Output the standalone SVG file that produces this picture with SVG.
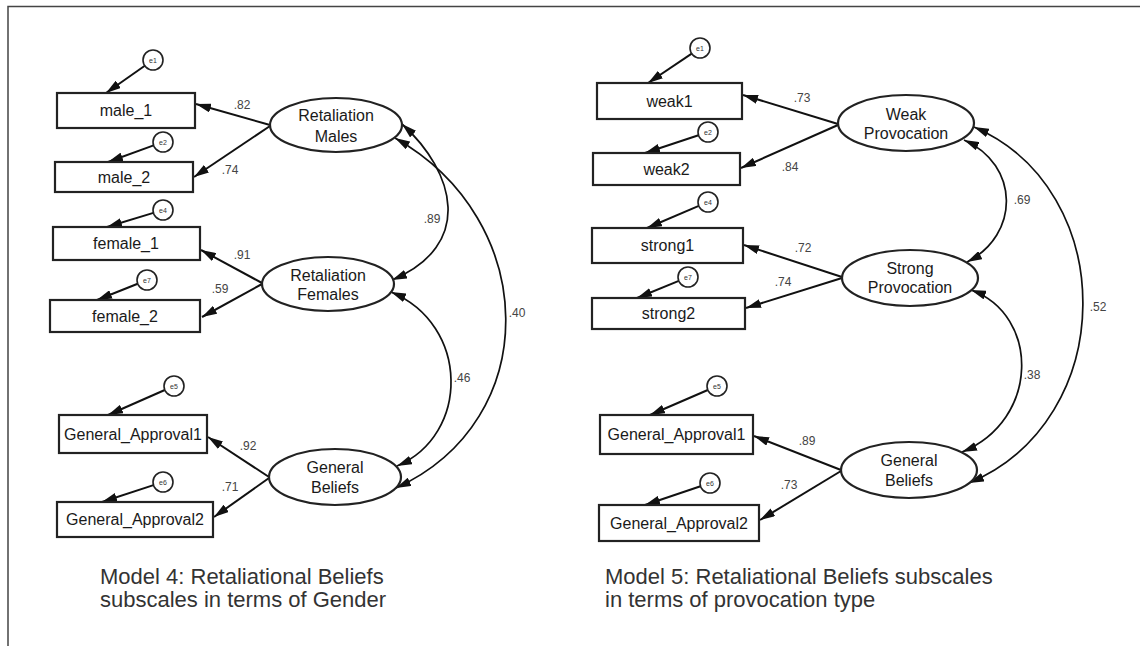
<svg xmlns="http://www.w3.org/2000/svg" width="1140" height="646" viewBox="0 0 1140 646">
<defs>
<marker id="ah" viewBox="0 0 15 9" refX="15" refY="4.5" markerWidth="15" markerHeight="9" markerUnits="userSpaceOnUse" orient="auto-start-reverse">
<path d="M0,0 L15,4.5 L0,9 z" fill="#111"/>
</marker>
<style>
.box{fill:#fff;stroke:#222;stroke-width:2.2}
.lat{fill:#fff;stroke:#222;stroke-width:2.2}
.err{fill:#fff;stroke:#222;stroke-width:1.6}
.t{font-family:"Liberation Sans",Arial,sans-serif;font-size:16px;fill:#1a1a1a;text-anchor:middle;dominant-baseline:central}
.et{font-family:"Liberation Sans",Arial,sans-serif;font-size:7px;fill:#333;text-anchor:middle;dominant-baseline:central}
.c{font-family:"Liberation Sans",Arial,sans-serif;font-size:12px;fill:#444;text-anchor:middle;dominant-baseline:central}
.cap{font-family:"Liberation Sans",Arial,sans-serif;font-size:22px;fill:#333}
.ln{fill:none;stroke:#111;stroke-width:2;marker-end:url(#ah)}
.cv{fill:none;stroke:#111;stroke-width:1.7;marker-start:url(#ah);marker-end:url(#ah)}
</style>
</defs>
<rect width="1140" height="646" fill="#fff"/>
<path d="M8,646 L8,6.5 L1140,6.5" fill="none" stroke="#444" stroke-width="1.5"/>

<g id="connectors">
<!-- left model: error arrows -->
<line class="ln" x1="144.8" y1="65.8" x2="106" y2="93"/>
<line class="ln" x1="153.6" y1="145.4" x2="108" y2="162"/>
<line class="ln" x1="153.4" y1="212.9" x2="107" y2="227"/>
<line class="ln" x1="137.7" y1="283.7" x2="97" y2="300"/>
<line class="ln" x1="164.8" y1="390" x2="108" y2="415"/>
<line class="ln" x1="153.5" y1="485.1" x2="102" y2="502"/>
<!-- left model: loadings -->
<line class="ln" x1="270" y1="125" x2="196" y2="104"/>
<line class="ln" x1="270" y1="126" x2="194" y2="177"/>
<line class="ln" x1="262" y1="283" x2="201" y2="250"/>
<line class="ln" x1="262" y1="284" x2="202" y2="317"/>
<line class="ln" x1="269" y1="477" x2="208" y2="437"/>
<line class="ln" x1="269" y1="478" x2="214" y2="517"/>
<!-- left model: covariances -->
<path class="cv" d="M402,124 C455,172 475,245 392,280"/>
<path class="cv" d="M395,138 C540,220 545,420 396,488"/>
<path class="cv" d="M391,292 C470,325 470,435 397,466"/>
<!-- right model: error arrows -->
<line class="ln" x1="691.7" y1="53.6" x2="648" y2="83"/>
<line class="ln" x1="698.5" y1="135.2" x2="645" y2="153"/>
<line class="ln" x1="698.8" y1="205.9" x2="647" y2="228"/>
<line class="ln" x1="678.8" y1="280.8" x2="637" y2="298"/>
<line class="ln" x1="707.8" y1="390" x2="650" y2="415"/>
<line class="ln" x1="700.5" y1="486.2" x2="645" y2="505"/>
<!-- right model: loadings -->
<line class="ln" x1="838" y1="124" x2="743" y2="95"/>
<line class="ln" x1="838" y1="125" x2="741" y2="168"/>
<line class="ln" x1="842" y1="277" x2="744" y2="245"/>
<line class="ln" x1="842" y1="278" x2="746" y2="308"/>
<line class="ln" x1="841" y1="470" x2="754" y2="436"/>
<line class="ln" x1="841" y1="471" x2="760" y2="520"/>
<!-- right model: covariances -->
<path class="cv" d="M964,140 C1020,165 1020,235 967,262"/>
<path class="cv" d="M974,127 C1120,190 1120,420 969,483"/>
<path class="cv" d="M971,290 C1040,315 1040,420 962,452"/>
<!-- coefficient labels -->
<text class="c" x="242" y="105">.82</text>
<text class="c" x="230" y="170">.74</text>
<text class="c" x="242" y="255">.91</text>
<text class="c" x="220" y="289">.59</text>
<text class="c" x="248" y="446">.92</text>
<text class="c" x="230" y="487">.71</text>
<text class="c" x="432" y="219">.89</text>
<text class="c" x="517" y="313">.40</text>
<text class="c" x="462" y="378">.46</text>
<text class="c" x="802" y="98">.73</text>
<text class="c" x="790" y="167">.84</text>
<text class="c" x="803" y="248">.72</text>
<text class="c" x="783" y="282">.74</text>
<text class="c" x="807" y="441">.89</text>
<text class="c" x="789" y="485">.73</text>
<text class="c" x="1022" y="200">.69</text>
<text class="c" x="1098" y="307">.52</text>
<text class="c" x="1032" y="375">.38</text>
</g>

<!-- left model nodes -->
<g id="L_e1"><circle class="err" cx="153" cy="60" r="10"/><text class="et" x="153" y="60">e1</text></g>
<g id="L_e2"><circle class="err" cx="163" cy="142" r="10"/><text class="et" x="163" y="142">e2</text></g>
<g id="L_e4"><circle class="err" cx="163" cy="210" r="10"/><text class="et" x="163" y="210">e4</text></g>
<g id="L_e7"><circle class="err" cx="147" cy="280" r="10"/><text class="et" x="147" y="280">e7</text></g>
<g id="L_e5"><circle class="err" cx="174" cy="386" r="10"/><text class="et" x="174" y="386">e5</text></g>
<g id="L_e6"><circle class="err" cx="163" cy="482" r="10"/><text class="et" x="163" y="482">e6</text></g>

<g id="male_1"><rect class="box" x="57" y="93" width="138" height="35"/><text class="t" x="126" y="110.5">male_1</text></g>
<g id="male_2"><rect class="box" x="55" y="162" width="138" height="30"/><text class="t" x="124" y="177">male_2</text></g>
<g id="female_1"><rect class="box" x="53" y="227" width="147" height="33"/><text class="t" x="126" y="243.5">female_1</text></g>
<g id="female_2"><rect class="box" x="50" y="300" width="150" height="32"/><text class="t" x="125" y="316">female_2</text></g>
<g id="L_GA1"><rect class="box" x="59" y="415" width="148" height="38"/><text class="t" x="133" y="434">General_Approval1</text></g>
<g id="L_GA2"><rect class="box" x="57" y="502" width="156" height="35"/><text class="t" x="135" y="519.5">General_Approval2</text></g>

<g id="RetMales"><ellipse class="lat" cx="336" cy="125" rx="66" ry="27"/><text class="t" x="336" y="115">Retaliation</text><text class="t" x="336" y="136">Males</text></g>
<g id="RetFemales"><ellipse class="lat" cx="328" cy="284" rx="66" ry="27"/><text class="t" x="328" y="275">Retaliation</text><text class="t" x="328" y="294">Females</text></g>
<g id="L_GenBeliefs"><ellipse class="lat" cx="335" cy="477" rx="66" ry="28"/><text class="t" x="335" y="467">General</text><text class="t" x="335" y="487">Beliefs</text></g>

<!-- right model nodes -->
<g id="R_e1"><circle class="err" cx="700" cy="48" r="10"/><text class="et" x="700" y="48">e1</text></g>
<g id="R_e2"><circle class="err" cx="708" cy="132" r="10"/><text class="et" x="708" y="132">e2</text></g>
<g id="R_e4"><circle class="err" cx="708" cy="202" r="10"/><text class="et" x="708" y="202">e4</text></g>
<g id="R_e7"><circle class="err" cx="688" cy="277" r="10"/><text class="et" x="688" y="277">e7</text></g>
<g id="R_e5"><circle class="err" cx="717" cy="386" r="10"/><text class="et" x="717" y="386">e5</text></g>
<g id="R_e6"><circle class="err" cx="710" cy="483" r="10"/><text class="et" x="710" y="483">e6</text></g>

<g id="weak1"><rect class="box" x="597" y="83" width="145" height="36"/><text class="t" x="669.5" y="101">weak1</text></g>
<g id="weak2"><rect class="box" x="593" y="153" width="147" height="32"/><text class="t" x="666.5" y="169">weak2</text></g>
<g id="strong1"><rect class="box" x="592" y="228" width="151" height="35"/><text class="t" x="667.5" y="245.5">strong1</text></g>
<g id="strong2"><rect class="box" x="592" y="298" width="153" height="31"/><text class="t" x="668.5" y="313.5">strong2</text></g>
<g id="R_GA1"><rect class="box" x="600" y="415" width="153" height="39"/><text class="t" x="676.5" y="434.5">General_Approval1</text></g>
<g id="R_GA2"><rect class="box" x="599" y="505" width="160" height="36"/><text class="t" x="679" y="523">General_Approval2</text></g>

<g id="WeakProv"><ellipse class="lat" cx="906" cy="123" rx="68" ry="28"/><text class="t" x="906" y="114">Weak</text><text class="t" x="906" y="133">Provocation</text></g>
<g id="StrongProv"><ellipse class="lat" cx="910" cy="278" rx="68" ry="28"/><text class="t" x="910" y="268">Strong</text><text class="t" x="910" y="287">Provocation</text></g>
<g id="R_GenBeliefs"><ellipse class="lat" cx="909" cy="470" rx="68" ry="28"/><text class="t" x="909" y="460">General</text><text class="t" x="909" y="480">Beliefs</text></g>

<g id="captions">
<text class="cap" x="100" y="584">Model 4: Retaliational Beliefs</text>
<text class="cap" x="100" y="607">subscales in terms of Gender</text>
<text class="cap" x="605" y="584">Model 5: Retaliational Beliefs subscales</text>
<text class="cap" x="605" y="607">in terms of provocation type</text>
</g>
</svg>
